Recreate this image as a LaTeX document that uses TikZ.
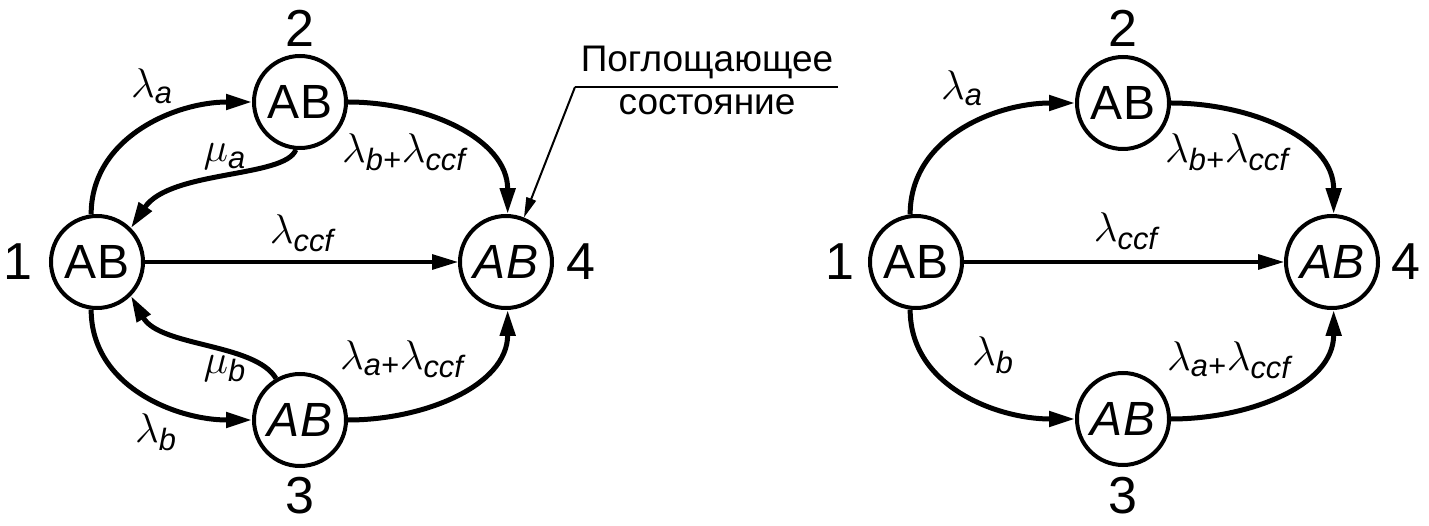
\documentclass[tikz,border=0pt]{standalone}
\usepackage{fontspec}
\setmainfont{Liberation Sans}
\usetikzlibrary{arrows.meta}
\tikzset{
  state/.style={
    circle, draw, line width=2pt,
    minimum size=46pt, inner sep=0pt,
    font=\fontsize{24}{27}\selectfont
  },
  trans/.style={
    line width=2.5pt,
    -{Triangle[length=13pt,width=7.5pt]}
  },
  direct/.style={
    line width=1.6pt,
    -{Triangle[length=13pt,width=7.5pt]}
  },
  num/.style={font=\fontsize{26}{30}\selectfont, inner sep=0pt},
  rate/.style={font=\fontsize{22}{25}\selectfont, inner sep=0pt},
  note/.style={font=\fontsize{18.5}{22}\selectfont, inner sep=0pt, anchor=base}
}
\newcommand{\lam}[1]{$\lambda$\textsubscript{\itshape #1}}
\newcommand{\mur}[1]{$\mu$\textsubscript{\itshape #1}}

\begin{document}
\begin{tikzpicture}[x=0.5pt,y=0.5pt]
    \useasboundingbox (0,0) rectangle (1429,525);

    % левый граф
    \node[state] (n1) at (97,263) {AB};
    \node[state] (n2) at (300,423) {AB};
    \node[state] (n3) at (300,105) {\textit{AB}};
    \node[state] (n4) at (506,263) {\textit{AB}};

    \node[num] (k1) at (18,263) {1};
    \node[num] (k2) at (300,497) {2};
    \node[num] (k3) at (300,29) {3};
    \node[num] (k4) at (581,263) {4};

    \draw[trans] (n1.97) to[out=90,in=180] (n2.west);
    \draw[trans] (n1.-97) to[out=-90,in=180] (n3.west);
    \draw[trans] (n2.east) to[out=0,in=90] (n4.88);
    \draw[trans] (n3.east) to[out=0,in=-90] (n4.-88);
    \draw[trans] (n2.265) .. controls (285,347) and (170,355) .. (n1.45);
    \draw[trans] (n3.120) .. controls (255,182) and (160,178) .. (n1.-45);
    \draw[direct] (n1) -- (n4);

    \node[rate] (r12) at (152,439) {\lam{a}};
    \node[rate] (r21) at (225,368) {\mur{a}};
    \node[rate] (r24) at (404,373) {\lam{b+}\lam{ccf}};
    \node[rate] (r14) at (302,292) {\lam{ccf}};
    \node[rate] (r31) at (225,156) {\mur{b}};
    \node[rate] (r13) at (156,93) {\lam{b}};
    \node[rate] (r34) at (402,166) {\lam{a+}\lam{ccf}};

    % поглощающее состояние
    \node[note] (t1) at (707,453) {Поглощающее};
    \node[note] (t2) at (707,410) {состояние};
    \coordinate (lead) at (575,438);
    \coordinate (leadend) at (838,438);
    \draw[line width=1pt] (leadend) -- (lead);
    \draw[line width=1pt,-{Triangle[length=10pt,width=5pt]}] (lead) -- (n4.68);

    % правый граф
    \node[state] (m1) at (916,263) {AB};
    \node[state] (m2) at (1123,422) {AB};
    \node[state] (m3) at (1123,106) {\textit{AB}};
    \node[state] (m4) at (1332,263) {\textit{AB}};

    \node[num] (q1) at (840,263) {1};
    \node[num] (q2) at (1123,497) {2};
    \node[num] (q3) at (1123,29) {3};
    \node[num] (q4) at (1406,263) {4};

    \draw[trans] (m1.97) to[out=90,in=180] (m2.west);
    \draw[trans] (m1.-97) to[out=-90,in=180] (m3.west);
    \draw[trans] (m2.east) to[out=0,in=90] (m4.88);
    \draw[trans] (m3.east) to[out=0,in=-90] (m4.-88);
    \draw[direct] (m1) -- (m4);

    \node[rate] (s12) at (962,437) {\lam{a}};
    \node[rate] (s24) at (1227,373) {\lam{b+}\lam{ccf}};
    \node[rate] (s14) at (1126,294) {\lam{ccf}};
    \node[rate] (s13) at (993,170) {\lam{b}};
    \node[rate] (s34) at (1229,165) {\lam{a+}\lam{ccf}};
\end{tikzpicture}
\end{document}
